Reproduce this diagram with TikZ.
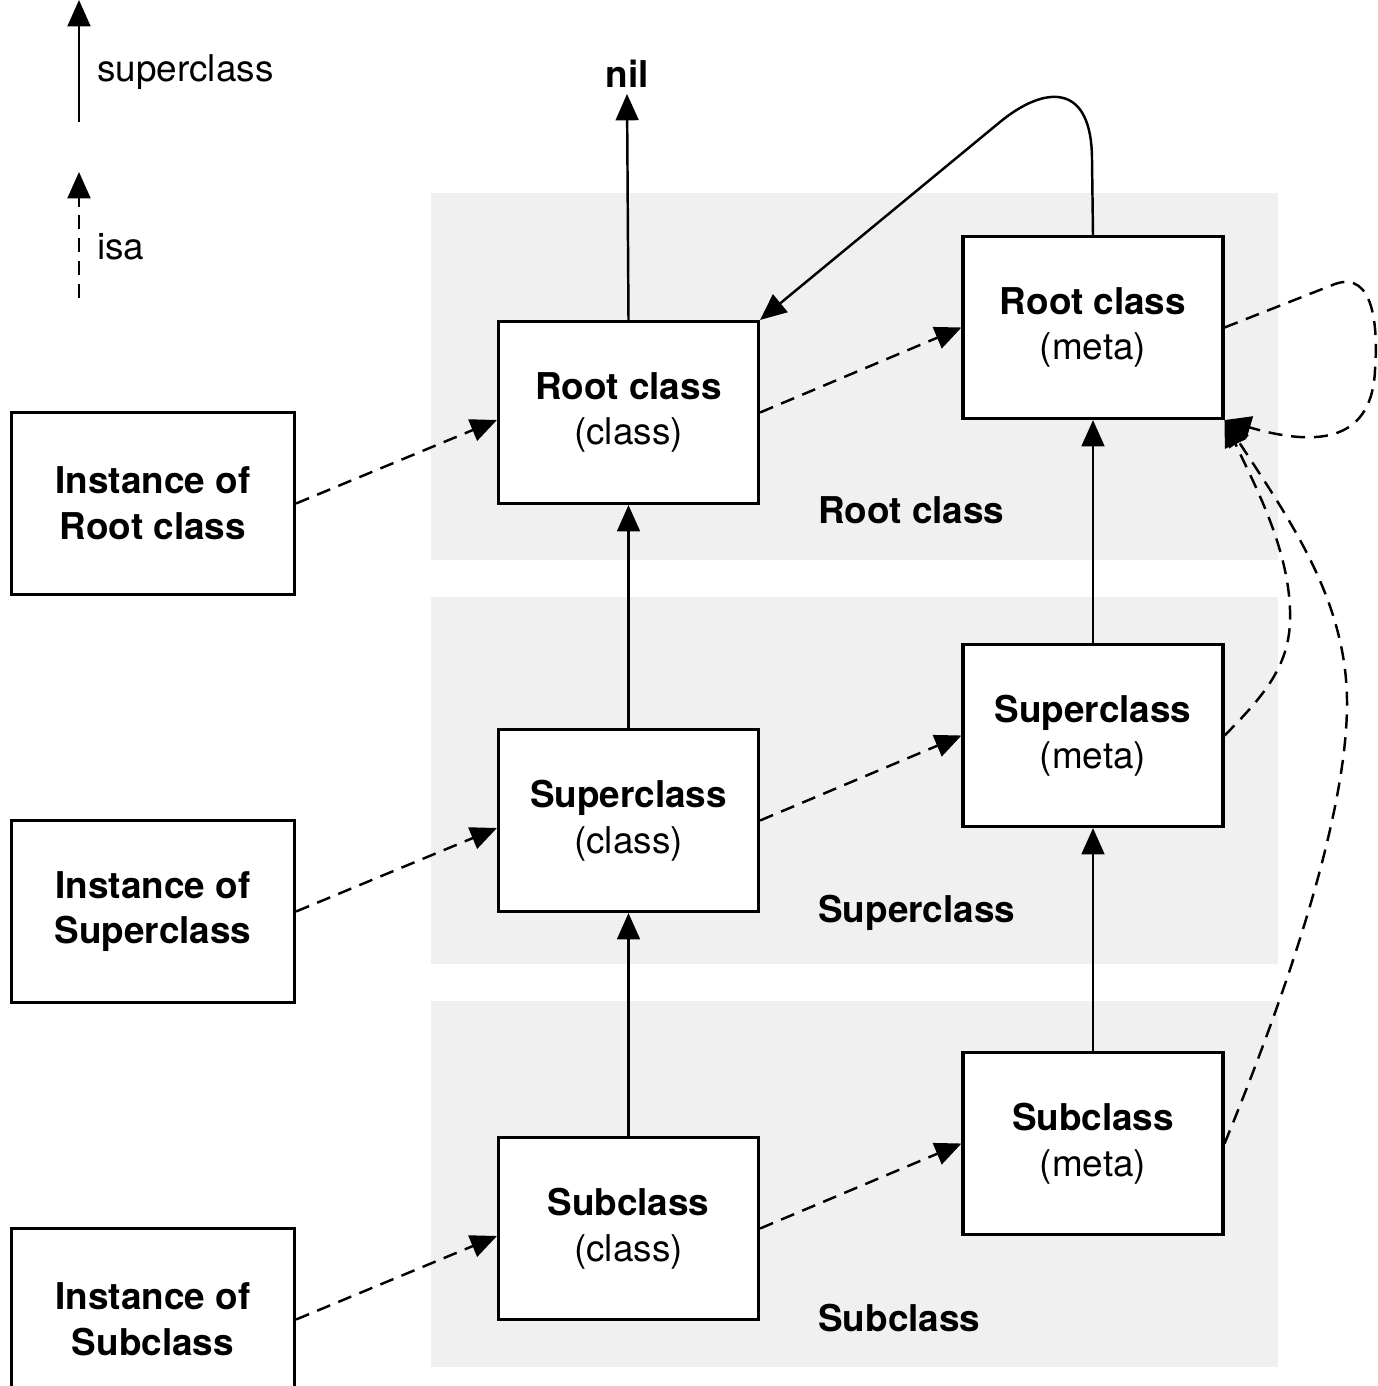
\documentclass[tikz,border=0pt]{standalone}
\usepackage{fontspec}
\setmainfont{TeX Gyre Heros}
\usetikzlibrary{arrows.meta}

\begin{document}
\begin{tikzpicture}[x=0.02cm,y=-0.02cm,
    font=\fontsize{21}{26}\selectfont,
    band/.style={fill=black!6},
    classbox/.style={draw,fill=white,line width=1.8pt,minimum width=5.2cm,minimum height=3.64cm,align=center},
    instbox/.style={classbox,minimum width=5.66cm,font=\fontsize{21}{26}\selectfont\bfseries},
    supline/.style={line width=1.4pt,-{Triangle[length=15pt,width=13pt]}},
    isaline/.style={supline,dash pattern=on 8pt off 5pt},
    bandlabel/.style={anchor=west,inner sep=0pt,font=\fontsize{21}{26}\selectfont\bfseries}]
    \useasboundingbox (0,0) rectangle (1378,1386);

    % grey bands
    \fill[band] (431,193) rectangle (1278,560);
    \fill[band] (431,597) rectangle (1278,964);
    \fill[band] (431,1001) rectangle (1278,1367);

    % legend
    \coordinate (supHead) at (79,0);
    \coordinate (supTail) at (79,122);
    \coordinate (isaHead) at (79,172);
    \coordinate (isaTail) at (79,298);
    \node[anchor=west,inner sep=0pt] (supText) at (97,72) {superclass};
    \node[anchor=west,inner sep=0pt] (isaText) at (97,247) {isa};
    \draw[supline] (supTail) -- (supHead);
    \draw[isaline] (isaTail) -- (isaHead);

    % classes and metaclasses
    \node[font=\fontsize{21}{26}\selectfont\bfseries] (nil) at (627,74) {nil};
    \node[classbox] (rootC) at (628.5,412.5) {\textbf{Root class}\\(class)};
    \node[classbox] (rootM) at (1093,327.5) {\textbf{Root class}\\(meta)};
    \node[classbox] (superC) at (628.5,820.5) {\textbf{Superclass}\\(class)};
    \node[classbox] (superM) at (1093,735.5) {\textbf{Superclass}\\(meta)};
    \node[classbox] (subC) at (628.5,1228.5) {\textbf{Subclass}\\(class)};
    \node[classbox] (subM) at (1093,1143.5) {\textbf{Subclass}\\(meta)};

    % instances
    \node[instbox] (instRoot) at (153,503.5) {Instance of\\Root class};
    \node[instbox] (instSuper) at (153,911.5) {Instance of\\Superclass};
    \node[instbox] (instSub) at (153,1319.5) {Instance of\\Subclass};

    % band labels
    \node[bandlabel] (rootLabel) at (818,510) {Root class};
    \node[bandlabel] (superLabel) at (818,913) {Superclass};
    \node[bandlabel] (subLabel) at (818,1318) {Subclass};

    % superclass links
    \draw[supline] (rootC.north) -- (nil.south);
    \draw[supline] (superC.north) -- (rootC.south);
    \draw[supline] (subC.north) -- (superC.south);
    \draw[supline] (superM.north) -- (rootM.south);
    \draw[supline] (subM.north) -- (superM.south);
    \draw[supline] (rootM.north) -- (1092,160) .. controls (1092,82) and (1045,85) .. (1000,122) -- (rootC.north east);

    % isa links
    \draw[isaline] (instRoot.east) -- ([yshift=-0.15cm]rootC.west);
    \draw[isaline] (instSuper.east) -- ([yshift=-0.15cm]superC.west);
    \draw[isaline] (instSub.east) -- ([yshift=-0.15cm]subC.west);
    \draw[isaline] (rootC.east) -- (rootM.west);
    \draw[isaline] (superC.east) -- (superM.west);
    \draw[isaline] (subC.east) -- (subM.west);
    \draw[isaline] (rootM.east) -- (1335,284) .. controls (1375,270) and (1378,330) .. (1375,370) .. controls (1372,440) and (1320,448) .. (rootM.south east);
    \draw[isaline] (superM.east) .. controls (1270,690) and (1292,660) .. (1290,610) .. controls (1288,545) and (1252,480) .. (rootM.south east);
    \draw[isaline] (subM.east) .. controls (1300,960) and (1348,800) .. (1347,700) .. controls (1346,600) and (1290,520) .. (rootM.south east);
\end{tikzpicture}
\end{document}
